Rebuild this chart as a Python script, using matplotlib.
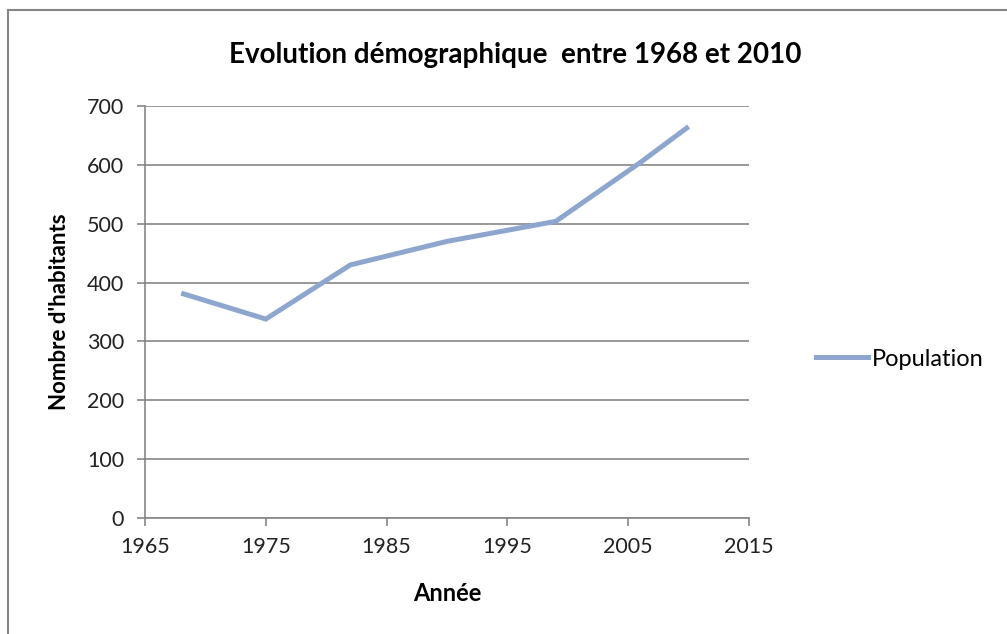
import numpy as np
import matplotlib
matplotlib.use("Agg")
import matplotlib.pyplot as plt
from matplotlib.lines import Line2D

# census years and population
annees = [1968, 1975, 1982, 1990, 1999, 2006, 2010]
population = [382, 338, 430, 470, 504, 604, 665]

x_ticks = [1965, 1975, 1985, 1995, 2005, 2015]
y_ticks = [0, 100, 200, 300, 400, 500, 600, 700]

plt.rcParams['font.family'] = ['Lato', 'DejaVu Sans']

W, H = 1007, 634
fig = plt.figure(figsize=(W / 100, H / 100), dpi=100)
ax = fig.add_axes([145 / W, 1 - 518 / H, (749 - 145) / W, (518 - 106) / H])

grid_col = '#868686'
line_col = '#8ea6ce'

ax.plot(annees, population, color=line_col, linewidth=3.6,
        solid_capstyle='butt', solid_joinstyle='miter', label='Population')

ax.set_xlim(1965, 2015)
ax.set_ylim(0, 700)
ax.set_xticks(x_ticks)
ax.set_yticks(y_ticks)
ax.yaxis.grid(True, color=grid_col, linewidth=1.2)
ax.set_axisbelow(True)

for s in ['top', 'right']:
    ax.spines[s].set_visible(False)
for s in ['left', 'bottom']:
    ax.spines[s].set_color(grid_col)
    ax.spines[s].set_linewidth(1.2)

ax.tick_params(axis='both', colors=grid_col, labelcolor='#222222',
               labelsize=15.5, length=6, width=1.2)
ax.tick_params(axis='y', pad=9)
ax.tick_params(axis='x', pad=8)

ax.set_xlabel('Année', fontsize=17, fontweight='bold', labelpad=18)
ax.set_ylabel("Nombre d'habitants", fontsize=16, fontweight='bold', labelpad=12)

fig.text(515 / W, 1 - 55 / H, 'Evolution démographique  entre 1968 et 2010',
         ha='center', va='center', fontsize=20, fontweight='bold')

fig.legend(handles=[Line2D([], [], color=line_col, linewidth=3.6)],
           labels=['Population'], loc='center left',
           bbox_to_anchor=(816 / W, 1 - 359 / H), frameon=False,
           fontsize=17, handlelength=2.2, handletextpad=0.15,
           borderaxespad=0, borderpad=0)

# outer chart border (left and top edges visible)
fig.add_artist(Line2D([8 / W, 8 / W], [0, 1 - 10 / H], color=grid_col,
                      linewidth=1.5, transform=fig.transFigure))
fig.add_artist(Line2D([8 / W, 1], [1 - 10 / H, 1 - 10 / H], color=grid_col,
                      linewidth=1.5, transform=fig.transFigure))

fig.savefig('out.png', dpi=100)
